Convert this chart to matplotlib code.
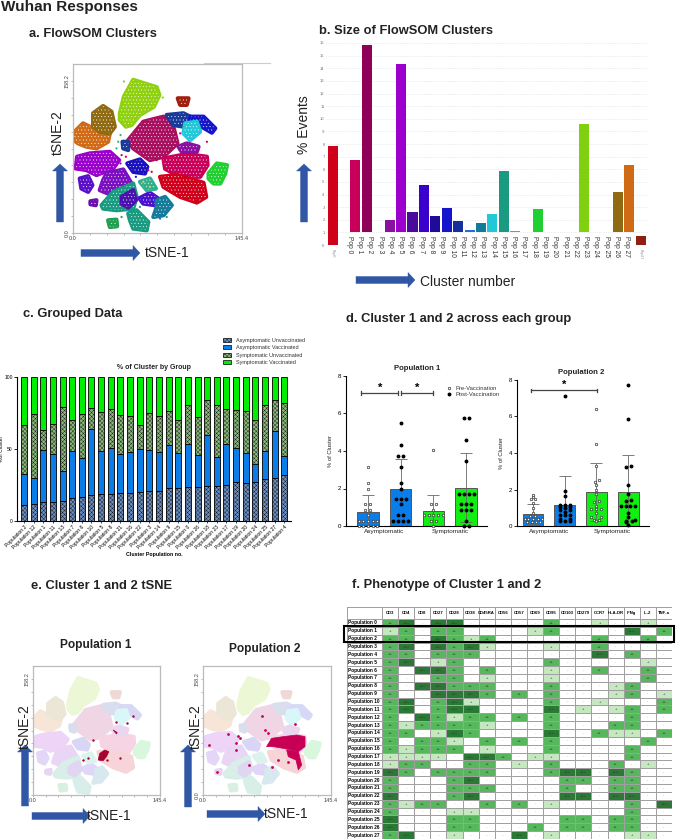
import numpy as np
import matplotlib
matplotlib.use('Agg')
import matplotlib.pyplot as plt
from matplotlib.colors import ListedColormap, to_rgb
from matplotlib.patches import FancyArrow, Patch, Polygon, Rectangle

plt.rcParams['font.family'] = ['Liberation Sans', 'DejaVu Sans']
plt.rcParams['hatch.linewidth'] = 0.25

W, H = 676, 840

# panel a / e : cluster outlines in tSNE units, (color, x list, y list)
TSNE_X_MAX = 145.4
TSNE_Y_MAX = 158.2
cluster_colors = ['#8fd010', '#d06a15', '#8f6a12', '#9b00cc', '#a8105f', '#c8005a', '#d0001a',
                  '#1a3a9a', '#1515cc', '#20c8d8', '#8a10a0', '#20d030', '#1a10c0', '#5a10c8',
                  '#7a10c0', '#1a9a80', '#4a10b0', '#4a10d0', '#147a9a', '#1a9a80', '#1f9f50',
                  '#a02010', '#6a10b0', '#30b090', '#1a3a9a']
cluster_x = [
    [40.3, 43.8, 51.8, 72, 74.3, 69.7, 57.6, 50.4, 45.5, 40.3],
    [0, 8.6, 17.3, 28.8, 31.7, 30.2, 20.2, 11.5, 4.3, 0],
    [17.3, 25.9, 33.1, 36, 31.7, 23, 17.3],
    [3.5, 14.4, 31.7, 39.7, 34.6, 20.2, 11.5, 2.3],
    [47.5, 60.5, 77.8, 86.4, 89.9, 77.8, 66.2, 51.8],
    [77.8, 97.9, 115.2, 115.8, 109.4, 92.2, 79.2],
    [74.9, 89.3, 112.3, 114.6, 106.6, 92.2, 77.8],
    [80.6, 95, 100.8, 95, 86.4],
    [100.8, 112.3, 122.4, 119.5, 108, 100.8],
    [96.5, 106.6, 109.4, 100.8, 95],
    [90.7, 97.9, 108, 106.6, 93.6],
    [116.6, 123.8, 132.5, 131, 126.7, 121, 116.6],
    [46.7, 57.6, 63.9, 61.9, 51.8],
    [5.8, 13, 16.7, 13, 7.2],
    [28.8, 43.2, 50.4, 40.3, 30.2, 23, 25.9],
    [24.5, 34.6, 51.8, 54.7, 51.8, 37.4, 25.9],
    [41.8, 51.8, 54.1, 47.5, 41.8],
    [57, 66.2, 73.4, 70.6, 60.5],
    [72, 79.2, 85, 77.8, 69.1, 72],
    [47.5, 54.7, 64.8, 63.4, 51.8, 49],
    [30.2, 37.4, 38, 31.7],
    [90.1, 99.4, 97.9, 92.2],
    [15, 20.2, 19.6, 15],
    [57.6, 66.2, 71.4, 63.4],
    [42.6, 47.5, 47.5, 43.2],
]
cluster_y = [
    [112.1, 127.7, 143.4, 136.5, 129.3, 118.3, 110.5, 101.1, 99.5, 105.8],
    [93.3, 102.7, 98, 94.8, 93.3, 85.4, 79.2, 80.8, 83.9, 87.6],
    [112.1, 118.9, 113.6, 99.5, 93.3, 94.8, 99.5],
    [71.4, 74.5, 76, 68.2, 60.4, 54.2, 58.9, 60.4],
    [87, 104.2, 108.9, 99.5, 83.9, 71.4, 68.2, 79.2],
    [69.8, 73.9, 71.4, 63.5, 52.6, 52.6, 60.1],
    [52.6, 54.2, 47, 33.8, 28.5, 33.8, 43.2],
    [110.5, 112.1, 108.9, 99.5, 101.1],
    [108.9, 108.9, 98, 93.9, 101.1, 104.2],
    [102.7, 104.2, 94.8, 87, 93.3],
    [80.8, 83.9, 80.8, 76, 76],
    [55.7, 65.1, 63.5, 55.7, 46.3, 46.3, 51],
    [65.1, 68.9, 62, 55.7, 57.2],
    [51, 53.2, 44.8, 38.5, 41.6],
    [55.7, 59.5, 46.3, 38.5, 36.9, 40.1, 49.5],
    [26, 38.5, 46.3, 33.8, 22.8, 21.3, 22.8],
    [33.8, 40.1, 30.7, 23.8, 27.5],
    [32.5, 37.6, 32.2, 26, 27.5],
    [30.7, 33.8, 26, 16.6, 15, 24.4],
    [18.2, 21.3, 10.3, 2.5, 4.1, 11.9],
    [11.9, 12.5, 6.3, 5.6],
    [126.1, 126.1, 119.9, 119.9],
    [29.7, 30.7, 26, 26.9],
    [47.9, 51, 41.6, 40.1],
    [85.4, 85.4, 77.6, 79.2],
]
stray_x = [40.9, 38.9, 37.4, 41.8, 40.9, 45.5, 77.2, 43.8, 72, 67.7, 60.5, 74.9, 80.6, 41.8, 86.4,
           115.2, 106.6, 47.5, 54.1, 64.8, 66.2, 92.2, 89.3, 57.6]
stray_y = [91.7, 85.4, 79.2, 72.9, 65.1, 71.4, 126.8, 141.8, 68.2, 57.3, 47.9, 13.5, 15, 15, 47.9,
           85.4, 30.7, 51, 52.6, 58.8, 43.2, 93.3, 90.1, 24.4]
stray_colors = ['#20c060', '#20c060', '#20c060', '#c8005a', '#9b00cc', '#c8005a', '#8fd010', '#8fd010',
                '#c8005a', '#d0001a', '#e0d020', '#1a6fd8', '#1a9a80', '#1f9f50', '#d0001a', '#c8005a',
                '#d0001a', '#7a10c0', '#1a10c0', '#d000a0', '#e0d020', '#d000a0', '#d000a0', '#1a9a80']

# panel e highlighted events
pop1_blob_x = [[74.6, 76.5, 82.2, 86.8, 84.2, 80.3], [91.8, 96.4, 95.6]]
pop1_blob_y = [[42.9, 51.1, 55.2, 53.2, 47, 42.1], [79.8, 76.5, 74.8]]
pop1_event_x = [114.8, 107.1, 94.9, 68.9, 63.1, 99.5, 57.4, 84.9]
pop1_event_y = [96.9, 88.8, 90, 67.5, 45, 45.8, 42.9, 42.9]
pop2_blob_x = [[72.2, 77.9, 91.2, 106.4, 115.9, 115.9, 108.3, 91.2, 79.8],
               [95, 108.3, 112.1, 108.3, 105.6, 96.9]]
pop2_blob_y = [[59.3, 69.5, 71.6, 73.6, 71.6, 59.3, 53.2, 57.2, 59.3],
               [55.2, 53.2, 36.8, 30.7, 42.9, 47]]
pop2_event_x = [39.9, 41.8, 28.5, 6.8, 38, 38, 16, 52.4, 66.5, 70.3, 74.1, 85.5, 77.9, 96.9, 104.5]
pop2_event_y = [72.8, 69.5, 74.8, 61.4, 63.4, 55.2, 27.8, 36.8, 96.9, 79.8, 75.7, 42.9, 34.8, 40.9, 87.1]

# panel b
size_tops = [7.86, 0, 6.75, 15.85, 0, 1.96, 14.36, 2.65, 4.76, 2.3, 2.9, 1.88, 1.18, 1.72,
             2.46, 5.85, 1.1, 0, 2.87, 0, 0, 0, 9.6, 0, 0, 4.2, 6.33, 0.7]
size_bottoms = [0] + [1] * 26 + [0]
size_colors = ['#d0001a', '#ffffff', '#c8005a', '#8f0058', '#ffffff', '#8a10a0', '#9b00cc', '#4a0a9a',
               '#3a00cc', '#1f0a9a', '#1515cc', '#14309a', '#1a6fd8', '#147a9a', '#20c8d8', '#1a9a80',
               '#20d070', '#ffffff', '#20d030', '#ffffff', '#ffffff', '#ffffff', '#80d010', '#ffffff',
               '#ffffff', '#8f6a12', '#d06a15', '#8f2010']

# panel c
group_labels = ['Population 2', 'Population 12', 'Population 1', 'Population 11', 'Population 13',
                'Population 7', 'Population 6', 'Population 10', 'Population 5', 'Population 8',
                'Population 21', 'Population 16', 'Population 22', 'Population 3', 'Population 14',
                'Population 9', 'Population 15', 'Population 0', 'Population 26', 'Population 18',
                'Population 23', 'Population 17', 'Population 19', 'Population 20', 'Population 24',
                'Population 25', 'Population 27', 'Population 4']
asym_unvac_top = [11.4, 12.1, 13, 13.5, 13.7, 16, 16.9, 18.3, 18.6, 19, 19.7, 19.7, 20.2, 20.6,
                  21.1, 22.7, 23.2, 23.4, 23.9, 24.1, 24.6, 25.3, 26.9, 26.7, 27.4, 29, 29.7, 31.8]
asym_vac_top = [32.5, 30.2, 49, 46.4, 34.6, 48.7, 43.9, 63.8, 48.5, 50.6, 46.4, 47.6, 49.7, 49,
                47.8, 52.7, 46.9, 53.8, 45.7, 59.6, 44.3, 53.4, 50.6, 46.9, 39.9, 48.5, 62.4, 45.2]
sym_unvac_top = [66.4, 74.5, 63.1, 67.7, 79.1, 70.1, 74.2, 78.4, 75.6, 77.7, 73.3, 72.6, 66.6, 74.9,
                 72.9, 76.3, 70.1, 80.3, 72.4, 84, 80.5, 77.7, 77, 76.3, 70.1, 80.5, 84, 81.9]
group_names = ['Asymptomatic Unvaccinated', 'Asymptomatic Vaccinated',
               'Symptomatic Unvaccinated', 'Symptomatic Vaccinated']

# panel d
p1_means = [0.75, 2.0, 0.78, 2.03]
p1_err_hi = [1.65, 3.6, 1.65, 3.9]
p1_err_lo = [0, 0.4, 0, 0.2]
p1_dots = [
    ([0, 0, 0, -.08, .07, -.08, .07, 0, -.29, -.14, 0, .14, .29, -.29, -.14, 0, .14, .29],
     [3.17, 2.32, 2.0, 1.15, 1.15, .85, .85, .6, .29, .29, .29, .29, .29, 0, 0, 0, 0, 0]),
    ([0, 0, -.08, .07, 0, 0, 0, -.15, 0, .15, 0, -.08, .07, -.23, -.08, .07, .22],
     [5.47, 4.3, 3.75, 3.75, 3.17, 2.32, 2.0, 1.43, 1.43, 1.43, 1.15, .57, .57, .29, .29, .29, .29]),
    ([0, -.08, .07, 0, -.29, -.14, 0, .14, .29, -.07, .07, 0],
     [4.03, 1.15, 1.15, .85, .57, .57, .57, .57, .57, .29, .29, 0]),
    ([-.07, .08, 0, 0, -.22, -.07, .08, .23, -.15, 0, .15, -.15, 0, .15, 0, -.07, .08],
     [5.75, 5.75, 4.6, 3.46, 1.72, 1.72, 1.72, 1.72, 1.15, 1.15, 1.15, .85, .85, .85, .29, 0, 0]),
]
p2_means = [0.65, 1.15, 1.87, 1.87]
p2_err_hi = [1.22, 2.73, 3.45, 3.9]
p2_err_lo = [0.1, 0, 0.3, 0]
p2_dots = [
    ([0, 0, -.07, .07, 0, 0, 0, -.08, .07, -.26, -.16, 0, .16, .29, -.19, -.04, .11, .21],
     [1.72, 1.57, 1.5, 1.5, 1.28, .97, .7, .55, .55, .37, .37, .37, .37, .37, .2, .2, .2, .2]),
    ([0, 0, 0, -.14, 0, .16, -.14, .16, 0, -.14, .16, 0, -.14, .02, .16, -.14, .16, 0, -.14, .16],
     [7.12, 1.94, 1.67, 1.15, 1.15, 1.15, 1.02, 1.05, 1.0, .9, .9, .77, .6, .6, .6, .4, .4, .25, .25, .25]),
    ([0, 0, 0, -.05, .07, 0, 0, 0, -.08, .07, 0, -.16, 0, .16, 0, -.16, .16, -.08, .07, 0],
     [6.43, 4.5, 3.3, 2.4, 2.5, 2.25, 2.0, 1.75, 1.3, 1.35, 1.1, .92, .92, .92, .7, .48, .48, .33, .33, .3]),
    ([0, 0, -.07, .08, 0, 0, .08, -.07, -.21, -.07, .07, .22, 0, 0, -.07, .22, .11, -.07, 0],
     [7.7, 5.86, 3.25, 3.3, 2.25, 1.75, 1.45, 1.35, 1.1, 1.1, 1.1, 1.1, .7, .48, .3, .33, .26, .24, .05]),
]

# panel f
marker_names = ['CD3', 'CD4', 'CD8', 'CD27', 'CD28', 'CD38', 'CD45RA', 'CD56', 'CD57', 'CD69', 'CD95',
                'CD103', 'CD279', 'CCR7', 'HLA-DR', 'IFNg', 'IL-2', 'TNF-a']
phenotype = [
    [2, 3, 0, 3, 3, 0, 0, 0, 0, 0, 2, 0, 0, 1, 0, 0, 1, 0],
    [1, 2, 0, 2, 2, 0, 0, 0, 0, 1, 2, 0, 0, 0, 0, 3, 0, 2],
    [2, 2, 0, 3, 2, 1, 2, 0, 0, 0, 0, 0, 0, 2, 0, 0, 2, 0],
    [2, 3, 0, 3, 2, 3, 1, 0, 0, 0, 1, 0, 0, 2, 0, 0, 0, 0],
    [2, 2, 0, 2, 2, 2, 0, 0, 0, 0, 0, 0, 0, 3, 0, 2, 0, 0],
    [2, 3, 0, 1, 2, 0, 0, 0, 0, 0, 2, 0, 0, 0, 0, 0, 1, 0],
    [2, 0, 3, 3, 2, 0, 2, 0, 0, 0, 1, 0, 0, 2, 0, 0, 2, 0],
    [2, 0, 0, 2, 2, 0, 1, 0, 0, 0, 1, 0, 0, 0, 0, 0, 2, 0],
    [2, 0, 3, 3, 2, 2, 2, 0, 0, 0, 2, 0, 0, 0, 1, 2, 0, 0],
    [2, 0, 0, 3, 3, 3, 2, 0, 2, 0, 2, 0, 0, 0, 1, 2, 0, 1],
    [2, 3, 0, 2, 3, 1, 0, 0, 0, 0, 2, 0, 0, 1, 0, 0, 0, 2],
    [2, 3, 0, 2, 3, 3, 0, 0, 0, 0, 3, 0, 1, 0, 1, 2, 0, 2],
    [2, 0, 3, 2, 1, 2, 2, 0, 2, 0, 2, 0, 0, 0, 0, 2, 0, 0],
    [2, 1, 2, 2, 2, 2, 1, 0, 0, 0, 2, 0, 0, 0, 2, 2, 0, 0],
    [2, 2, 0, 1, 3, 2, 0, 0, 0, 0, 3, 0, 0, 2, 1, 1, 0, 2],
    [2, 0, 2, 2, 1, 0, 2, 0, 2, 0, 2, 0, 0, 0, 0, 0, 2, 0],
    [2, 1, 2, 2, 2, 0, 1, 0, 0, 0, 2, 0, 0, 0, 0, 2, 0, 0],
    [1, 1, 1, 1, 0, 3, 3, 2, 0, 1, 1, 0, 0, 0, 0, 2, 0, 0],
    [1, 2, 2, 0, 0, 2, 2, 0, 1, 0, 2, 0, 0, 0, 2, 0, 1, 0],
    [3, 2, 0, 2, 2, 2, 2, 0, 0, 0, 2, 3, 3, 0, 3, 2, 0, 0],
    [2, 0, 0, 0, 2, 3, 0, 0, 0, 0, 0, 2, 2, 0, 2, 2, 0, 0],
    [2, 0, 0, 0, 2, 2, 2, 0, 0, 0, 0, 2, 0, 0, 2, 2, 0, 0],
    [3, 0, 0, 0, 2, 3, 0, 0, 0, 0, 0, 3, 3, 0, 3, 3, 0, 0],
    [2, 1, 2, 2, 0, 0, 2, 0, 2, 0, 1, 0, 0, 0, 0, 2, 0, 3],
    [2, 0, 0, 0, 1, 1, 0, 0, 0, 0, 0, 0, 0, 0, 0, 2, 0, 0],
    [3, 0, 0, 0, 2, 2, 0, 0, 0, 0, 0, 2, 2, 0, 2, 2, 0, 0],
    [3, 0, 0, 0, 2, 2, 0, 0, 0, 2, 0, 2, 2, 0, 2, 2, 0, 0],
    [2, 3, 0, 0, 1, 0, 0, 0, 3, 0, 1, 0, 0, 0, 0, 1, 1, 0],
]
level_marks = ['-', '+', '++', '+++']


def px_axes(x0, y0, x1, y1, **kw):
    # axes from pixel box, y counted from top of the image
    return fig.add_axes([x0 / W, 1 - y1 / H, (x1 - x0) / W, (y1 - y0) / H], **kw)


def tsne_panel(ax, fade):
    # fade 0 = full color, fade near 1 = washed out toward white
    for c, xs, ys in zip(cluster_colors, cluster_x, cluster_y):
        rgb = np.array(to_rgb(c))
        col = tuple(rgb + (1 - rgb) * fade)
        pts = np.column_stack([xs, ys])
        ax.add_patch(Polygon(pts, closed=True, facecolor=col, edgecolor=col, lw=3, joinstyle='round'))
        if fade == 0:
            ax.add_patch(Polygon(pts, closed=True, facecolor='none', edgecolor='white', lw=0, hatch='.....'))
    ax.set_xlim(0, TSNE_X_MAX)
    ax.set_ylim(0, TSNE_Y_MAX)
    ax.set_xticks(np.arange(0, 146, 14.5))
    ax.set_yticks(np.arange(0, 158, 15.8))
    ax.set_xticklabels(['0.0'] + [''] * (len(ax.get_xticks()) - 2) + ['145.4'], fontsize=4, color='#444444')
    ax.set_yticklabels(['0.0'] + [''] * (len(ax.get_yticks()) - 2) + ['158.2'], fontsize=4, color='#444444',
                       rotation=90, va='center')
    ax.tick_params(length=1.5, width=0.4, color='#888888', pad=1)
    for s in ax.spines.values():
        s.set_color('#bbbbbb')
        s.set_linewidth(0.9)


def arrow(x0, y0, x1, y1):
    ov.add_patch(FancyArrow(x0, y0, x1 - x0, y1 - y0, width=7, head_width=15, head_length=7,
                            length_includes_head=True, facecolor='#2f57a5', edgecolor='#2f57a5', lw=0.3))


def group_bars(ax, means, hi, lo, dots):
    colors = ['#0a7de8', '#0a7de8', '#11ee11', '#11ee11']
    ax.bar(range(4), means, width=0.66, color=colors, edgecolor='#555555', linewidth=0.7, zorder=1)
    for i in range(4):
        ax.errorbar(i, means[i], yerr=[[means[i] - lo[i]], [hi[i] - means[i]]], color='#666666',
                    elinewidth=0.6, capsize=4.5, capthick=0.6, zorder=2)
        dx, vals = dots[i]
        if i % 2 == 0:
            ax.scatter(np.array(dx) + i, vals, s=3.2, facecolor='white', edgecolor='#333333',
                       linewidth=0.5, zorder=3, clip_on=False)
        else:
            ax.scatter(np.array(dx) + i, vals, s=3.2, color='black', zorder=3, clip_on=False)
    ax.set_ylim(0, 8)
    ax.set_yticks([0, 2, 4, 6, 8])
    ax.set_xticks([0.5, 2.5])
    ax.set_xticklabels(['Asymptomatic', 'Symptomatic'], fontsize=4.6, color='#222222')
    ax.set_ylabel('% of Cluster', fontsize=4.2, labelpad=3, color='#222222')
    ax.tick_params(axis='y', labelsize=4.4, length=2, width=0.6, pad=1.5)
    ax.tick_params(axis='x', length=0, pad=2.5)
    ax.spines['top'].set_visible(False)
    ax.spines['right'].set_visible(False)
    ax.spines['left'].set_linewidth(0.8)
    ax.spines['bottom'].set_linewidth(0.8)


def bracket(ax, x0, x1, y, star_x):
    ax.plot([x0, x1], [y, y], color='#444444', lw=0.9)
    ax.plot([x0, x0], [y - 0.09, y + 0.09], color='#444444', lw=0.9)
    ax.plot([x1, x1], [y - 0.09, y + 0.09], color='#444444', lw=0.9)
    ax.text(star_x, y + 0.02, '*', ha='center', va='bottom', fontsize=8, fontweight='bold')


fig = plt.figure(figsize=(W / 100, H / 100), dpi=100, facecolor='white')

# a
ax_a = px_axes(73, 64, 242, 233)
tsne_panel(ax_a, 0)
ax_a.scatter(stray_x, stray_y, s=2.5, c=stray_colors, linewidths=0, zorder=3)

# b
ax_b = px_axes(326, 43, 648, 245)
for k in range(28):
    if size_tops[k] > 0:
        ax_b.bar(k, size_tops[k] - size_bottoms[k], bottom=size_bottoms[k], width=0.88,
                 color=size_colors[k], zorder=2)
ax_b.set_xlim(-0.58, 27.63)
ax_b.set_ylim(0, 16)
ax_b.set_yticks(range(17))
ax_b.tick_params(axis='y', labelsize=3, length=0, pad=1, labelcolor='#777777')
ax_b.grid(axis='y', color='#d8d8d8', lw=0.5, ls=':', zorder=0)
ax_b.set_xticks([0, 27])
ax_b.set_xticklabels(['Pop0', 'Pop27'], fontsize=2.6, rotation=-90, color='#888888')
ax_b.tick_params(axis='x', length=0, pad=3)
for s in ax_b.spines.values():
    s.set_visible(False)
for k in range(28):
    ax_b.text(1.46 + 0.9 * k, 0.75, 'Pop %d' % k, rotation=-90, ha='center', va='top', fontsize=4.8,
              color='#333333', zorder=4)

# c
ax_c = px_axes(17, 377, 291, 521)
xc = np.arange(28)
au = np.array(asym_unvac_top)
av = np.array(asym_vac_top)
su = np.array(sym_unvac_top)
bar_kw = dict(width=0.62, edgecolor='black', linewidth=0.6)
ax_c.bar(xc, au, color='#6d8fc0', hatch='xxxxxxxx', **bar_kw)
ax_c.bar(xc, av - au, bottom=au, color='#0a7de8', **bar_kw)
ax_c.bar(xc, su - av, bottom=av, color='#8ab67c', hatch='xxxxxxxx', **bar_kw)
ax_c.bar(xc, 100 - su, bottom=su, color='#00ee00', **bar_kw)
ax_c.set_xlim((17 - 24) / 9.64, (291 - 24) / 9.64)
ax_c.set_ylim(0, 100)
ax_c.set_yticks([0, 50, 100])
ax_c.set_xticks(xc)
ax_c.set_xticklabels(group_labels, rotation=45, ha='right', rotation_mode='anchor', fontsize=3.6)
ax_c.tick_params(axis='y', labelsize=3.6, length=2, width=0.6, pad=1)
ax_c.tick_params(axis='x', length=1.5, width=0.5, pad=1)
ax_c.set_ylabel('%of Cluster', fontsize=3.6)
ax_c.yaxis.set_label_coords(-0.047, 0.5)
ax_c.set_xlabel('Cluster Population no.', fontsize=3.8, fontweight='bold', labelpad=1.5)
ax_c.spines['top'].set_visible(False)
ax_c.spines['right'].set_visible(False)
ax_c.spines['left'].set_linewidth(0.8)
ax_c.spines['bottom'].set_linewidth(0.8)
ax_c.set_title('% of Cluster by Group', fontsize=5, fontweight='bold', pad=6, x=0.5, color='#222222')
handles = [Patch(facecolor='#6d8fc0', hatch='xxxxxxxx', edgecolor='black', lw=0.5, label=group_names[0]),
           Patch(facecolor='#0a7de8', edgecolor='black', lw=0.5, label=group_names[1]),
           Patch(facecolor='#8ab67c', hatch='xxxxxxxx', edgecolor='black', lw=0.5, label=group_names[2]),
           Patch(facecolor='#00ee00', edgecolor='black', lw=0.5, label=group_names[3])]
fig.legend(handles=handles, loc='upper left', bbox_to_anchor=(220 / W, 1 - 335 / H), frameon=False,
           fontsize=4, handlelength=1.5, handleheight=0.8, labelspacing=0.42, handletextpad=0.8,
           borderpad=0, labelcolor='#333333')

# d
ax_d1 = px_axes(346, 376, 487, 526)
group_bars(ax_d1, p1_means, p1_err_hi, p1_err_lo, p1_dots)
ax_d1.set_xlim((346 - 368) / 32.7, (487 - 368) / 32.7)
bracket(ax_d1, -0.2, 0.91, 7.1, 0.36)
bracket(ax_d1, 1.0, 2.0, 7.1, 1.5)
ax_d1.scatter([2.49], [7.34], s=3.2, facecolor='white', edgecolor='#333333', linewidth=0.5)
ax_d1.scatter([2.49], [7.03], s=3.2, color='black')
ax_d1.text(2.68, 7.34, 'Pre-Vaccination', fontsize=4.2, va='center', color='#333333')
ax_d1.text(2.68, 7.03, 'Post-Vaccination', fontsize=4.2, va='center', color='#333333')

ax_d2 = px_axes(517, 380, 649, 526)
group_bars(ax_d2, p2_means, p2_err_hi, p2_err_lo, p2_dots)
ax_d2.set_xlim((517 - 533) / 31.7, (649 - 533) / 31.7)
bracket(ax_d2, -0.05, 2.02, 7.43, 0.98)

# e
ax_e1 = px_axes(33, 666, 160, 795)
tsne_panel(ax_e1, 0.83)
for xs, ys in zip(pop1_blob_x, pop1_blob_y):
    ax_e1.add_patch(Polygon(np.column_stack([xs, ys]), closed=True, facecolor='#a80030', edgecolor='#a80030', lw=0.5))
ax_e1.scatter(pop1_event_x, pop1_event_y, s=3, color='#a80030', linewidths=0)

ax_e2 = px_axes(203, 666, 331, 795)
tsne_panel(ax_e2, 0.83)
for xs, ys in zip(pop2_blob_x, pop2_blob_y):
    ax_e2.add_patch(Polygon(np.column_stack([xs, ys]), closed=True, facecolor='#c80055', edgecolor='#c80055', lw=0.5))
ax_e2.scatter(pop2_event_x, pop2_event_y, s=4, color='#c80055', linewidths=0)

# f
ax_f = px_axes(347, 607, 672, 839)
C = np.zeros((29, 19))
C[1:, 1:] = np.array(phenotype)
X = np.concatenate([[-2.17], np.arange(19)])
Y = np.concatenate([[-1.53], np.arange(29)])
ax_f.pcolormesh(X, Y, C, cmap=ListedColormap(['#ffffff', '#c5e8c0', '#57b75c', '#2a7a35']), vmin=-0.5, vmax=3.5,
                edgecolors='#a0a0a0', linewidth=0.45)
ax_f.set_xlim(-2.17, 18)
ax_f.set_ylim(28, -1.53)
ax_f.axis('off')
for j, name in enumerate(marker_names):
    ax_f.text(j + 0.5, -0.76, name, ha='center', va='center', fontsize=3.1, fontweight='bold')
for i, row in enumerate(phenotype):
    ax_f.text(-2.1, i + 0.5, 'Population %d' % i, ha='left', va='center', fontsize=3.4, fontweight='bold')
    for j, v in enumerate(row):
        ax_f.text(j + 0.5, i + 0.5, level_marks[v], ha='center', va='center', fontsize=3,
                  color='#333333' if v else '#888888')

# overlay in image pixels for headings, arrows, labels
ov = fig.add_axes([0, 0, 1, 1], zorder=10)
ov.set_xlim(0, W)
ov.set_ylim(H, 0)
ov.axis('off')
ov.patch.set_alpha(0)

headings = [('Wuhan Responses', 1, 7, 11), ('a. FlowSOM Clusters', 29, 34, 9.3), ('b. Size of FlowSOM Clusters', 319, 31, 9.3),
            ('c. Grouped Data', 23, 314, 9.3), ('d. Cluster 1 and 2 across each group', 346, 319, 9.3),
            ('e. Cluster 1 and 2 tSNE', 31, 586, 9.3), ('f. Phenotype of Cluster 1 and 2', 352, 585, 9.3)]
for txt, x, y, fs in headings:
    ov.text(x, y, txt, fontsize=fs, fontweight='bold', ha='left', va='center', color='#222222')

ov.plot([204, 270], [63, 63], color='#cccccc', lw=0.8)
ov.add_patch(Rectangle((344, 626), 330, 16, fill=False, edgecolor='black', lw=1.5))

arrow(60, 222, 60, 164)
arrow(81, 253, 140, 253)
arrow(304, 222, 304, 164)
arrow(356, 280, 415, 280)
arrow(25, 806, 25, 745)
arrow(32, 816, 90, 816)
arrow(188, 807, 188, 745)
arrow(207, 814, 265, 814)

labels = [('tSNE-1', 167, 253, 0), ('tSNE-2', 58, 133, 90), ('% Events', 304, 125, 90), ('Cluster number', 468, 282, 0),
          ('tSNE-2', 25, 727, 90), ('tSNE-2', 196, 727, 90), ('tSNE-1', 109, 816, 0), ('tSNE-1', 286, 814, 0)]
for txt, x, y, rot in labels:
    ov.text(x, y, txt, fontsize=10, rotation=rot, ha='center', va='center', color='#222222')

ov.text(96, 645, 'Population 1', fontsize=8.6, fontweight='bold', ha='center', va='center', color='#222222')
ov.text(265, 649, 'Population 2', fontsize=8.6, fontweight='bold', ha='center', va='center', color='#222222')
ov.text(417, 368, 'Population 1', fontsize=5.6, fontweight='bold', ha='center', va='center', color='#222222')
ov.text(581, 372, 'Population 2', fontsize=5.6, fontweight='bold', ha='center', va='center', color='#222222')

fig.savefig('out.png', dpi=100)
